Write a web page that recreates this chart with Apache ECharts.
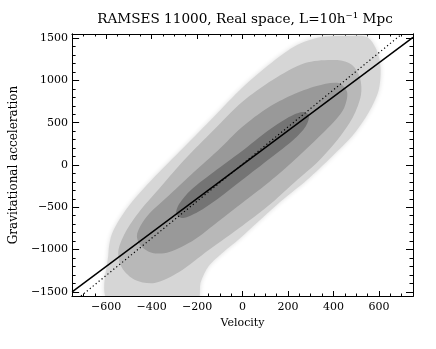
<!DOCTYPE html>
<html lang="en">
<head>
    <meta charset="UTF-8">
    <title>RAMSES 11000 - velocity vs acceleration</title>
    <script src="https://cdn.jsdelivr.net/npm/echarts@6/dist/echarts.min.js"></script>
    <style>
        html, body { margin: 0; padding: 0; background: #fff; }
        #chart { width: 436px; height: 349px; }
    </style>
</head>
<body>
<div id="chart"></div>
<script type="text/javascript">
    // axis ranges and ticks
    var xRange = [-750, 750];
    var yRange = [-1550, 1550];
    var xMajor = [-600, -400, -200, 0, 200, 400, 600];
    var xMinor = [-700, -650, -550, -500, -450, -350, -300, -250, -150, -100, -50,
        50, 100, 150, 250, 300, 350, 450, 500, 550, 650, 700];
    var yMajor = [-1500, -1000, -500, 0, 500, 1000, 1500];
    var yMinor = [-1400, -1300, -1200, -1100, -900, -800, -700, -600, -400, -300, -200, -100,
        100, 200, 300, 400, 600, 700, 800, 900, 1100, 1200, 1300, 1400];

    // contour outlines (velocity, acceleration)
    var contour1 = [[-590, -1597], [-590, -1041], [-573, -804], [-504, -497], [-400, -177],
        [-257, 213], [-127, 568], [2, 923], [132, 1219], [240, 1420], [348, 1515], [460, 1526],
        [547, 1515], [590, 1361], [607, 1148], [599, 887], [556, 627], [486, 355], [391, 95],
        [283, -177], [175, -414], [67, -674], [-15, -875], [-84, -1029], [-149, -1195],
        [-184, -1384], [-201, -1597]];
    var contour2 = [[417, 1242], [482, 1183], [517, 1029], [521, 828], [486, 568], [417, 296],
        [326, 24], [240, -177], [128, -449], [-2, -721], [-149, -1005], [-279, -1266],
        [-387, -1396], [-473, -1360], [-530, -1218], [-547, -1029], [-517, -804], [-452, -544],
        [-357, -248], [-257, 59], [-127, 414], [-2, 746], [132, 1006], [275, 1207]];
    var contour3 = [[422, 970], [460, 864], [447, 675], [409, 533], [313, 272], [214, 24],
        [106, -225], [-2, -449], [-110, -674], [-214, -887], [-322, -1029], [-396, -1041],
        [-447, -958], [-465, -840], [-447, -710], [-408, -568], [-322, -355], [-214, -83],
        [-106, 178], [-2, 450], [110, 675], [218, 828], [326, 935]];
    var contour4 = [[292, 592], [262, 627], [197, 556], [110, 402], [-2, 166], [-127, -83],
        [-227, -295], [-279, -461], [-292, -579], [-262, -627], [-197, -556], [-110, -402],
        [-2, -177], [123, 83], [223, 296], [279, 462]];

    // fitted lines
    var solidLine = [[-750, -1500], [750, 1510]];
    var dottedLine = [[-711, -1550], [701, 1550]];

    var fontFamily = '"DejaVu Serif", "Liberation Serif", serif';
    var minus = function (v) { return String(v).replace('-', '\u2212'); };

    function contourSeries(name, pts, color, extra) {
        return {
            name: name,
            type: 'custom',
            xAxisIndex: 0,
            yAxisIndex: 0,
            clip: true,
            silent: true,
            data: pts,
            renderItem: function (params, api) {
                if (params.dataIndex !== 0) return;
                var shape = pts.map(function (p) { return api.coord(p); });
                return {
                    type: 'polygon',
                    shape: { points: shape, smooth: 0.3 },
                    style: Object.assign({ fill: color }, extra || {})
                };
            }
        };
    }

    function xAxis(pos, values, len, withLabels) {
        return {
            type: 'value', position: pos, min: xRange[0], max: xRange[1],
            axisLine: { show: true, onZero: false, lineStyle: { color: '#000', width: 1 } },
            axisTick: { show: true, inside: true, length: len, customValues: values,
                lineStyle: { color: '#000', width: 1 } },
            axisLabel: withLabels ? { show: true, customValues: xMajor, formatter: minus,
                fontFamily: fontFamily, fontSize: 11, color: '#000', margin: 6 } : { show: false },
            splitLine: { show: false }
        };
    }
    function yAxis(pos, values, len, withLabels) {
        return {
            type: 'value', position: pos, min: yRange[0], max: yRange[1],
            axisLine: { show: true, onZero: false, lineStyle: { color: '#000', width: 1 } },
            axisTick: { show: true, inside: true, length: len, customValues: values,
                lineStyle: { color: '#000', width: 1 } },
            axisLabel: withLabels ? { show: true, customValues: yMajor, formatter: minus,
                fontFamily: fontFamily, fontSize: 11, color: '#000', margin: 4 } : { show: false },
            splitLine: { show: false }
        };
    }

    var chart = echarts.init(document.getElementById('chart'));
    var xMain = xAxis('bottom', xMajor, 5, true);
    xMain.name = 'Velocity';
    xMain.nameLocation = 'middle';
    xMain.nameGap = 20;
    xMain.nameTextStyle = { fontFamily: fontFamily, fontSize: 11, color: '#000' };
    var yMain = yAxis('left', yMajor, 7, true);
    yMain.name = 'Gravitational acceleration';
    yMain.nameLocation = 'middle';
    yMain.nameGap = 40;
    yMain.nameTextStyle = { fontFamily: fontFamily, fontSize: 12, color: '#000' };

    chart.setOption({
        animation: false,
        backgroundColor: '#fff',
        title: {
            text: 'RAMSES 11000, Real space, L=10h\u207B\u00B9 Mpc',
            left: 240, top: 7, textAlign: 'center',
            textStyle: { fontFamily: fontFamily, fontSize: 13.6, fontWeight: 'normal', color: '#000' }
        },
        grid: { left: 66, right: 23, top: 34, bottom: 53 },
        xAxis: [
            xMain,
            xAxis('bottom', xMinor, 2.5, false),
            xAxis('top', xMajor, 5, false),
            xAxis('top', xMinor, 2.5, false)
        ],
        yAxis: [
            yMain,
            yAxis('left', yMinor, 3.5, false),
            yAxis('right', yMajor, 7, false),
            yAxis('right', yMinor, 3.5, false)
        ],
        series: [
            contourSeries('level1', contour1, '#d6d6d6', { shadowColor: '#dcdcdc', shadowBlur: 5 }),
            contourSeries('level2', contour2, '#b8b8b8'),
            contourSeries('level3', contour3, '#999999'),
            contourSeries('level4', contour4, '#747474'),
            {
                name: 'fit', type: 'line', data: solidLine, symbol: 'none', clip: true,
                lineStyle: { color: '#000', width: 1.5 }
            },
            {
                name: 'one-to-one', type: 'line', data: dottedLine, symbol: 'none', clip: true,
                lineStyle: { color: '#000', width: 1.2, type: [1.2, 2.6] }
            }
        ]
    });
</script>
</body>
</html>
